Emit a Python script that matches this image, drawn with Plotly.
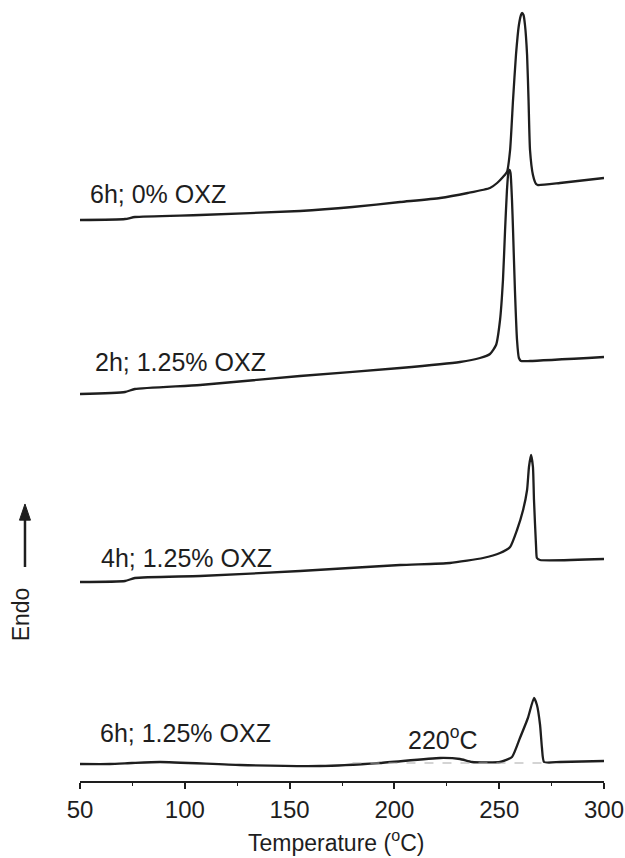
import plotly.graph_objects as go

# Temperature (°C) and heat-flow (arbitrary units, endo up)
t_0pct_6h = [50, 71.5, 76.2, 107.3, 155, 180, 202.7, 221.8, 235, 245.6, 249.0, 251.8, 253.7, 255.2,
             256.6, 258.0, 259.4, 260.4, 260.9, 261.6, 262.3, 263.3, 264.0, 264.7, 266.1, 267.6,
             268.5, 279.0, 300]
y_0pct_6h = [56.1, 56.2, 56.4, 56.6, 57.0, 57.4, 57.9, 58.3, 58.8, 59.3, 59.8, 60.4, 60.9, 63.1,
             68.1, 72.6, 75.6, 76.6, 76.8, 76.6, 75.6, 72.6, 68.1, 63.1, 60.6, 59.7,
             59.6, 59.8, 60.3]

t_125_2h = [50, 71.5, 76.2, 107.3, 155, 202.7, 231.3, 240.8, 245.6, 248.5, 250.4, 251.8, 252.8,
            253.7, 254.4, 254.9, 255.4, 256.1, 256.6, 257.5, 258.5, 259.4, 260.4, 264.7, 300]
y_125_2h = [38.7, 38.9, 39.2, 39.6, 40.5, 41.3, 41.9, 42.3, 42.7, 43.6, 46.1, 50.1, 55.1,
            59.1, 60.9, 61.1, 60.8, 58.1, 55.1, 49.1, 44.1, 42.3, 42.0, 42.0, 42.4]

t_125_4h = [50, 71.5, 76.2, 107.3, 155, 202.7, 226.5, 242.3, 250.4, 255.2, 258.5, 261.4, 263.3,
            264.2, 265.2, 266.1, 266.6, 267.6, 268.0, 269.5, 300]
y_125_4h = [19.9, 20.0, 20.3, 20.5, 21.0, 21.6, 21.8, 22.3, 22.8, 23.4, 25.1, 27.1, 29.1,
            31.4, 32.6, 31.4, 28.1, 23.4, 22.3, 22.1, 22.2]

t_125_6h = [50, 64.3, 74.8, 88.2, 126.3, 164.5, 193.1, 221.8, 231.3, 237.0, 250.4, 256.1, 259.9,
            263.7, 266.6, 268.0, 269.5, 270.4, 271.4, 279.0, 300]
y_125_6h = [1.7, 1.7, 1.8, 1.9, 1.6, 1.5, 1.8, 2.3, 2.2, 1.9, 1.9, 2.4, 4.3,
            6.3, 8.3, 7.6, 5.6, 3.3, 1.9, 1.9, 2.0]

baseline_t = [180, 272]
baseline_y = [1.8, 1.8]

curve_labels = ["6h; 0% OXZ", "2h; 1.25% OXZ", "4h; 1.25% OXZ", "6h; 1.25% OXZ"]
label_t = [53.6, 56.4, 59.2, 58.4]
label_y = [58.7, 41.9, 22.3, 4.8]

x_ticks = [50, 100, 150, 200, 250, 300]

FONT = "Liberation Sans, Arial, Helvetica, sans-serif"
INK = "#1e1e1e"

fig = go.Figure()
for t, y in [(t_0pct_6h, y_0pct_6h), (t_125_2h, y_125_2h), (t_125_4h, y_125_4h), (t_125_6h, y_125_6h)]:
    fig.add_trace(go.Scatter(x=t, y=y, mode="lines",
                             line=dict(color=INK, width=2.3, shape="spline", smoothing=0.5),
                             showlegend=False, hoverinfo="skip"))
fig.add_trace(go.Scatter(x=baseline_t, y=baseline_y, mode="lines",
                         line=dict(color="#aaaaaa", width=1.2, dash="dash"),
                         showlegend=False, hoverinfo="skip"))

annotations = []
for txt, tx, ty in zip(curve_labels, label_t, label_y):
    annotations.append(dict(x=tx, y=ty, xref="x", yref="y", text=txt, showarrow=False,
                            xanchor="left", yanchor="middle",
                            font=dict(family=FONT, size=25, color=INK)))
annotations.append(dict(x=223.2, y=4.3, xref="x", yref="y", text="220<sup>o</sup>C", showarrow=False,
                        xanchor="center", yanchor="middle",
                        font=dict(family=FONT, size=25, color=INK)))
annotations.append(dict(x=172, y=0, xref="x", yref="paper", text="Temperature (<sup>o</sup>C)",
                        showarrow=False, xanchor="center", yanchor="middle", yshift=-60,
                        font=dict(family=FONT, size=23, color=INK)))
annotations.append(dict(x=-0.112, y=0.2138, xref="paper", yref="paper", text="Endo", textangle=-90,
                        showarrow=False, xanchor="center", yanchor="middle",
                        font=dict(family=FONT, size=23, color=INK)))

# "Endo" direction arrow (shaft + head)
ax_x = -0.105
shapes = [
    dict(type="line", xref="paper", yref="paper", x0=ax_x, x1=ax_x, y0=0.274, y1=0.342,
         line=dict(color=INK, width=2.5)),
    dict(type="path", xref="paper", yref="paper",
         path=f"M {ax_x - 0.0105} 0.334 L {ax_x + 0.0105} 0.334 L {ax_x} 0.3547 Z",
         fillcolor=INK, line=dict(color=INK, width=1)),
]

fig.update_layout(
    width=625, height=858,
    margin=dict(l=80, r=21, t=0, b=77),
    paper_bgcolor="white", plot_bgcolor="white",
    annotations=annotations,
    shapes=shapes,
    xaxis=dict(range=[50, 300], tickvals=x_ticks, ticks="outside", ticklen=6, tickwidth=1.5,
               tickcolor=INK, showline=True, linecolor=INK, linewidth=1.8, showgrid=False,
               zeroline=False, tickfont=dict(family=FONT, size=24, color=INK),
               minor=dict(tickvals=[75, 125, 175, 225, 275], ticks="outside", ticklen=3,
                          tickwidth=1.2, tickcolor=INK)),
    yaxis=dict(range=[0, 78.1], visible=False, showgrid=False, zeroline=False),
)

fig.write_html("out.html")
